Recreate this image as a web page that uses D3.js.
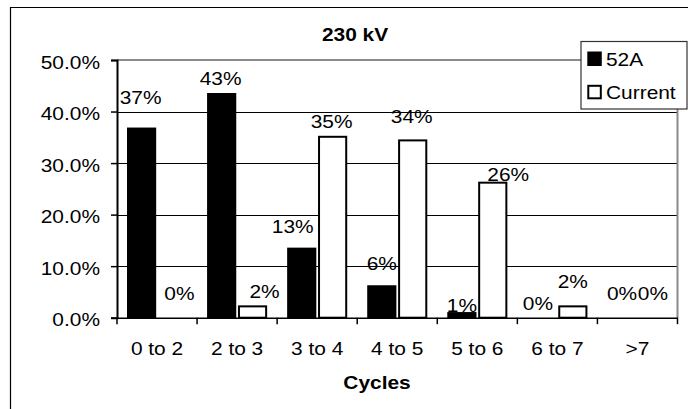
<!DOCTYPE html>
<html>
<head>
<meta charset="utf-8">
<script src="https://cdn.jsdelivr.net/npm/d3@7"></script>
<style>
  html, body { margin: 0; padding: 0; background: #fff; }
  svg { display: block; }
  text { font-family: "Liberation Sans", Arial, sans-serif; fill: #000; }
</style>
</head>
<body>
<svg id="chart" width="688" height="409"></svg>
<script>
// Share of operations by clearing time (cycles), 230 kV
const categories = ["0 to 2", "2 to 3", "3 to 4", "4 to 5", "5 to 6", "6 to 7", ">7"];
const seriesNames = ["52A", "Current"];
const values52A = [0.367, 0.434, 0.134, 0.061, 0.009, 0, 0];
const valuesCurrent = [0, 0.022, 0.351, 0.344, 0.262, 0.022, 0];
const yTicks = [0, 0.1, 0.2, 0.3, 0.4, 0.5];
const titleText = "230 kV";
const xTitle = "Cycles";

// Hand-placed label nudges (px): [dx, lift above bar top]
const labelNudge52A = [[-1, 25], [-1, 9], [-9, 16], [0, 16], [0, 1.5], [-4, 8], [0, 17.5]];
const labelNudgeCurrent = [[7, 17.5], [12, 8.5], [-1, 8.5], [-1, 17.5], [15.5, 1.5], [0, 18], [0, 17.5]];

const svg = d3.select("#chart");
const FS = 19;       // font size
const SX = 1.1;      // horizontal text stretch

const plot = { left: 117, right: 677.5, top: 60, bottom: 317.7 };

const x = d3.scaleBand().domain(categories).range([plot.left, plot.right]);
const xSub = d3.scaleBand().domain(seriesNames).range([11, x.bandwidth() - 11]).paddingInner(0.12);
const y = d3.scaleLinear().domain([0, 0.5]).range([plot.bottom, plot.top]);
const pct0 = d3.format(".0%");
const pct1 = d3.format(".1%");

function stretched(sel, px, py) {
  return sel.attr("transform", `translate(${px},${py}) scale(${SX},1)`);
}

// outer chart frame (continues past the window edge)
svg.append("path")
  .attr("d", "M10.5,409 L10.5,7.5 L688,7.5")
  .attr("fill", "none").attr("stroke", "#000").attr("stroke-width", 1.2);

// horizontal gridlines
svg.append("g").selectAll("line")
  .data(yTicks.filter(t => t > 0 && t < 0.5))
  .join("line")
  .attr("x1", plot.left).attr("x2", plot.right)
  .attr("y1", d => Math.round(y(d)) + 0.5).attr("y2", d => Math.round(y(d)) + 0.5)
  .attr("stroke", "#000").attr("stroke-width", 1);

// plot-area border (top and right) in grey
svg.append("path")
  .attr("d", `M${plot.left},${plot.top} L${plot.right},${plot.top} L${plot.right},${plot.bottom}`)
  .attr("fill", "none").attr("stroke", "#8a8a8a").attr("stroke-width", 2);

// bars
const rows = categories.map((c, i) => ({ cat: c, vals: [values52A[i], valuesCurrent[i]] }));
const barData = [];
rows.forEach((r, i) => {
  seriesNames.forEach((s, j) => barData.push({ cat: r.cat, series: s, v: r.vals[j], i, j }));
});

svg.append("g").selectAll("rect")
  .data(barData.filter(d => d.v > 0))
  .join("rect")
  .attr("x", d => x(d.cat) + xSub(d.series))
  .attr("width", xSub.bandwidth())
  .attr("y", d => y(d.v))
  .attr("height", d => y(0) - y(d.v))
  .attr("fill", d => d.series === "52A" ? "#000" : "#fff")
  .attr("stroke", "#000").attr("stroke-width", 2);

// y axis
const yAxis = d3.axisLeft(y).tickValues(yTicks).tickFormat(pct1).tickSize(6).tickPadding(11);
const gy = svg.append("g").attr("transform", `translate(${plot.left},0)`).call(yAxis);
gy.select(".domain").attr("stroke", "#000").attr("stroke-width", 2);
gy.selectAll(".tick line").attr("stroke", "#000").attr("stroke-width", 1.5);
gy.selectAll(".tick text")
  .attr("font-size", FS).attr("dy", null).attr("y", 8).attr("x", null)
  .attr("transform", `translate(-17,0) scale(${SX},1)`);

// x axis
const xAxis = d3.axisBottom(x).tickSize(0).tickPadding(0);
const gx = svg.append("g").attr("transform", `translate(0,${plot.bottom})`).call(xAxis);
gx.select(".domain").attr("stroke", "#000").attr("stroke-width", 1.6);
gx.selectAll(".tick text")
  .attr("font-size", FS).attr("dy", null).attr("y", null)
  .attr("transform", `translate(0,37.5) scale(${SX},1)`);
// tick marks sit on category boundaries
svg.append("g").selectAll("line")
  .data(categories.map(c => x(c)).concat([plot.right]))
  .join("line")
  .attr("x1", d => d).attr("x2", d => d)
  .attr("y1", plot.bottom).attr("y2", plot.bottom + 6.5)
  .attr("stroke", "#000").attr("stroke-width", 1.5);

// value labels
const labels = svg.append("g");
barData.forEach(d => {
  const nudge = (d.series === "52A" ? labelNudge52A : labelNudgeCurrent)[d.i];
  const cx = x(d.cat) + xSub(d.series) + xSub.bandwidth() / 2 + nudge[0];
  const by = y(d.v) - nudge[1];
  stretched(labels.append("text"), cx, by)
    .attr("text-anchor", "middle").attr("font-size", FS)
    .text(pct0(d.v));
});

// title and axis title
stretched(svg.append("text"), 355, 40.7)
  .attr("text-anchor", "middle").attr("font-size", FS).attr("font-weight", "bold")
  .text(titleText);
stretched(svg.append("text"), 377, 389)
  .attr("text-anchor", "middle").attr("font-size", FS).attr("font-weight", "bold")
  .text(xTitle);

// legend
const lg = svg.append("g");
lg.append("rect")
  .attr("x", 581).attr("y", 41.5).attr("width", 106).attr("height", 67.5)
  .attr("fill", "#fff").attr("stroke", "#333").attr("stroke-width", 1.2);
seriesNames.forEach((s, k) => {
  const top = 52.5 + k * 33.3;
  lg.append("rect")
    .attr("x", 588.3).attr("y", top).attr("width", 12.5).attr("height", 12.5)
    .attr("fill", k === 0 ? "#000" : "#fff").attr("stroke", "#000").attr("stroke-width", 2);
  stretched(lg.append("text"), 606, top + 13.3)
    .attr("font-size", FS).text(s);
});
</script>
</body>
</html>
